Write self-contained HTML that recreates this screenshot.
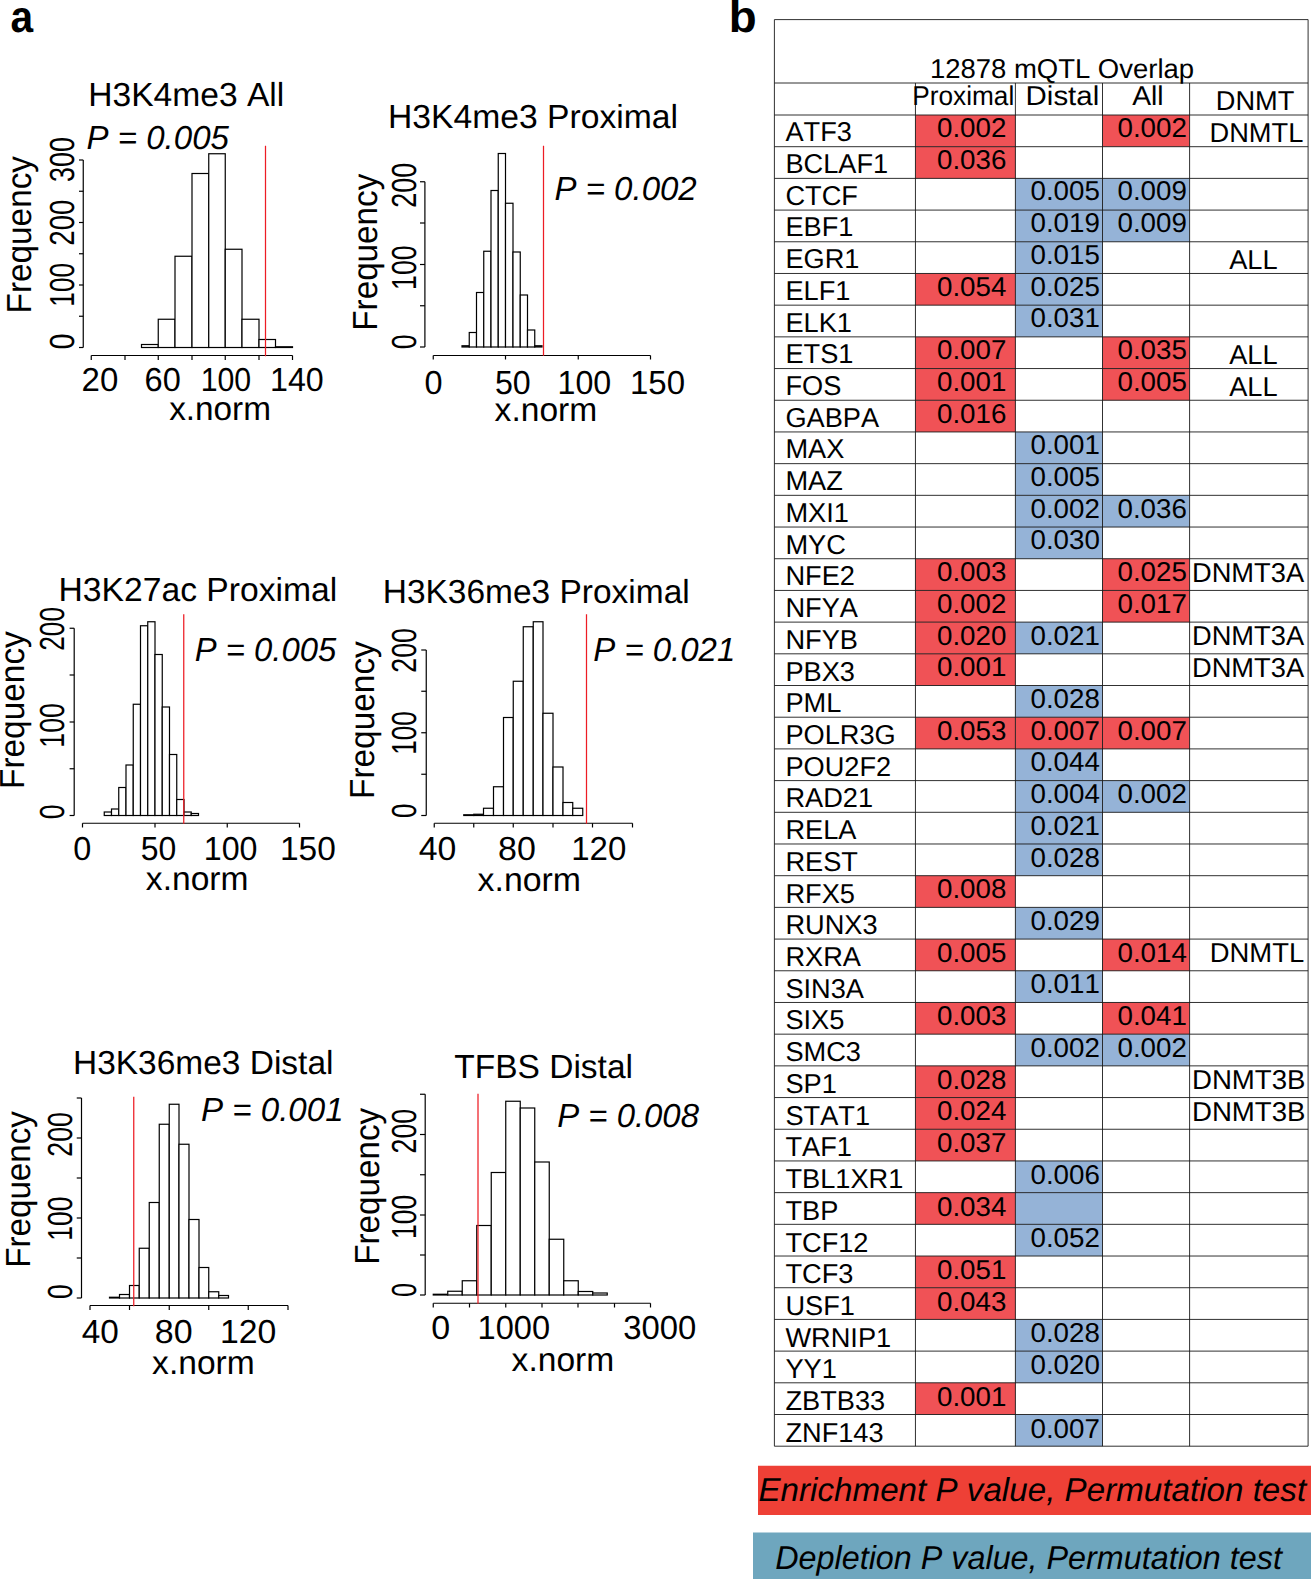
<!DOCTYPE html>
<html><head><meta charset="utf-8"><title>Figure</title>
<style>html,body{margin:0;padding:0;background:#fff}svg{display:block}</style></head>
<body>
<svg width="1311" height="1580" viewBox="0 0 1311 1580" font-family='"Liberation Sans", sans-serif' style="font-kerning:none" text-rendering="geometricPrecision">
<rect width="1311" height="1580" fill="#fff"/>
<rect x="141.50" y="344.50" width="16.75" height="3.00" fill="#fff" stroke="#000" stroke-width="1.20"/>
<rect x="158.25" y="319.25" width="16.75" height="28.25" fill="#fff" stroke="#000" stroke-width="1.20"/>
<rect x="175.00" y="256.25" width="17.00" height="91.25" fill="#fff" stroke="#000" stroke-width="1.20"/>
<rect x="192.00" y="173.50" width="16.75" height="174.00" fill="#fff" stroke="#000" stroke-width="1.20"/>
<rect x="208.75" y="153.75" width="16.50" height="193.75" fill="#fff" stroke="#000" stroke-width="1.20"/>
<rect x="225.25" y="249.25" width="16.75" height="98.25" fill="#fff" stroke="#000" stroke-width="1.20"/>
<rect x="242.00" y="319.25" width="17.00" height="28.25" fill="#fff" stroke="#000" stroke-width="1.20"/>
<rect x="259.00" y="339.50" width="16.50" height="8.00" fill="#fff" stroke="#000" stroke-width="1.20"/>
<rect x="275.50" y="346.75" width="17.00" height="0.75" fill="#fff" stroke="#000" stroke-width="1.20"/>
<line x1="83.25" y1="347.50" x2="83.25" y2="160.00" stroke="#000" stroke-width="1.20"/>
<line x1="79.00" y1="347.50" x2="83.25" y2="347.50" stroke="#000" stroke-width="1.20"/>
<line x1="79.00" y1="316.25" x2="83.25" y2="316.25" stroke="#000" stroke-width="1.20"/>
<line x1="79.00" y1="285.00" x2="83.25" y2="285.00" stroke="#000" stroke-width="1.20"/>
<line x1="79.00" y1="253.75" x2="83.25" y2="253.75" stroke="#000" stroke-width="1.20"/>
<line x1="79.00" y1="222.50" x2="83.25" y2="222.50" stroke="#000" stroke-width="1.20"/>
<line x1="79.00" y1="191.25" x2="83.25" y2="191.25" stroke="#000" stroke-width="1.20"/>
<line x1="79.00" y1="160.00" x2="83.25" y2="160.00" stroke="#000" stroke-width="1.20"/>
<line x1="91.25" y1="355.50" x2="292.50" y2="355.50" stroke="#000" stroke-width="1.20"/>
<line x1="91.25" y1="355.50" x2="91.25" y2="360.00" stroke="#000" stroke-width="1.20"/>
<line x1="125.00" y1="355.50" x2="125.00" y2="360.00" stroke="#000" stroke-width="1.20"/>
<line x1="158.25" y1="355.50" x2="158.25" y2="360.00" stroke="#000" stroke-width="1.20"/>
<line x1="192.00" y1="355.50" x2="192.00" y2="360.00" stroke="#000" stroke-width="1.20"/>
<line x1="225.25" y1="355.50" x2="225.25" y2="360.00" stroke="#000" stroke-width="1.20"/>
<line x1="259.00" y1="355.50" x2="259.00" y2="360.00" stroke="#000" stroke-width="1.20"/>
<line x1="292.50" y1="355.50" x2="292.50" y2="360.00" stroke="#000" stroke-width="1.20"/>
<line x1="265.50" y1="145.75" x2="265.50" y2="356.25" stroke="#ed1c24" stroke-width="1.25"/>
<rect x="462.00" y="345.75" width="7.25" height="1.25" fill="#fff" stroke="#000" stroke-width="1.20"/>
<rect x="469.25" y="332.50" width="7.25" height="14.50" fill="#fff" stroke="#000" stroke-width="1.20"/>
<rect x="476.50" y="292.50" width="7.25" height="54.50" fill="#fff" stroke="#000" stroke-width="1.20"/>
<rect x="483.75" y="251.25" width="7.25" height="95.75" fill="#fff" stroke="#000" stroke-width="1.20"/>
<rect x="491.00" y="190.50" width="7.25" height="156.50" fill="#fff" stroke="#000" stroke-width="1.20"/>
<rect x="498.25" y="153.50" width="7.25" height="193.50" fill="#fff" stroke="#000" stroke-width="1.20"/>
<rect x="505.50" y="203.25" width="7.50" height="143.75" fill="#fff" stroke="#000" stroke-width="1.20"/>
<rect x="513.00" y="252.00" width="7.25" height="95.00" fill="#fff" stroke="#000" stroke-width="1.20"/>
<rect x="520.25" y="295.00" width="7.25" height="52.00" fill="#fff" stroke="#000" stroke-width="1.20"/>
<rect x="527.50" y="330.00" width="7.25" height="17.00" fill="#fff" stroke="#000" stroke-width="1.20"/>
<rect x="534.75" y="345.75" width="7.25" height="1.25" fill="#fff" stroke="#000" stroke-width="1.20"/>
<line x1="424.90" y1="347.00" x2="424.90" y2="181.75" stroke="#000" stroke-width="1.20"/>
<line x1="420.00" y1="347.00" x2="424.90" y2="347.00" stroke="#000" stroke-width="1.20"/>
<line x1="420.00" y1="305.75" x2="424.90" y2="305.75" stroke="#000" stroke-width="1.20"/>
<line x1="420.00" y1="264.50" x2="424.90" y2="264.50" stroke="#000" stroke-width="1.20"/>
<line x1="420.00" y1="223.00" x2="424.90" y2="223.00" stroke="#000" stroke-width="1.20"/>
<line x1="420.00" y1="181.75" x2="424.90" y2="181.75" stroke="#000" stroke-width="1.20"/>
<line x1="433.25" y1="355.50" x2="650.50" y2="355.50" stroke="#000" stroke-width="1.20"/>
<line x1="433.25" y1="355.50" x2="433.25" y2="359.50" stroke="#000" stroke-width="1.20"/>
<line x1="505.50" y1="355.50" x2="505.50" y2="359.50" stroke="#000" stroke-width="1.20"/>
<line x1="578.25" y1="355.50" x2="578.25" y2="359.50" stroke="#000" stroke-width="1.20"/>
<line x1="650.50" y1="355.50" x2="650.50" y2="359.50" stroke="#000" stroke-width="1.20"/>
<line x1="543.50" y1="145.75" x2="543.50" y2="355.75" stroke="#ed1c24" stroke-width="1.25"/>
<rect x="104.25" y="812.00" width="7.25" height="3.50" fill="#fff" stroke="#000" stroke-width="1.20"/>
<rect x="111.50" y="809.00" width="7.25" height="6.50" fill="#fff" stroke="#000" stroke-width="1.20"/>
<rect x="118.75" y="787.50" width="7.25" height="28.00" fill="#fff" stroke="#000" stroke-width="1.20"/>
<rect x="126.00" y="765.00" width="7.25" height="50.50" fill="#fff" stroke="#000" stroke-width="1.20"/>
<rect x="133.25" y="704.25" width="7.25" height="111.25" fill="#fff" stroke="#000" stroke-width="1.20"/>
<rect x="140.50" y="625.75" width="7.25" height="189.75" fill="#fff" stroke="#000" stroke-width="1.20"/>
<rect x="147.75" y="621.75" width="7.25" height="193.75" fill="#fff" stroke="#000" stroke-width="1.20"/>
<rect x="155.00" y="654.50" width="7.25" height="161.00" fill="#fff" stroke="#000" stroke-width="1.20"/>
<rect x="162.25" y="707.00" width="7.25" height="108.50" fill="#fff" stroke="#000" stroke-width="1.20"/>
<rect x="169.50" y="754.50" width="7.25" height="61.00" fill="#fff" stroke="#000" stroke-width="1.20"/>
<rect x="176.75" y="799.50" width="7.25" height="16.00" fill="#fff" stroke="#000" stroke-width="1.20"/>
<rect x="184.00" y="812.00" width="7.25" height="3.50" fill="#fff" stroke="#000" stroke-width="1.20"/>
<rect x="191.25" y="813.50" width="7.25" height="2.00" fill="#fff" stroke="#000" stroke-width="1.20"/>
<line x1="74.20" y1="815.50" x2="74.20" y2="628.25" stroke="#000" stroke-width="1.20"/>
<line x1="69.60" y1="815.50" x2="74.20" y2="815.50" stroke="#000" stroke-width="1.20"/>
<line x1="69.60" y1="768.75" x2="74.20" y2="768.75" stroke="#000" stroke-width="1.20"/>
<line x1="69.60" y1="722.00" x2="74.20" y2="722.00" stroke="#000" stroke-width="1.20"/>
<line x1="69.60" y1="675.00" x2="74.20" y2="675.00" stroke="#000" stroke-width="1.20"/>
<line x1="69.60" y1="628.25" x2="74.20" y2="628.25" stroke="#000" stroke-width="1.20"/>
<line x1="82.50" y1="823.25" x2="299.50" y2="823.25" stroke="#000" stroke-width="1.20"/>
<line x1="82.50" y1="823.25" x2="82.50" y2="827.50" stroke="#000" stroke-width="1.20"/>
<line x1="155.00" y1="823.25" x2="155.00" y2="827.50" stroke="#000" stroke-width="1.20"/>
<line x1="227.25" y1="823.25" x2="227.25" y2="827.50" stroke="#000" stroke-width="1.20"/>
<line x1="299.50" y1="823.25" x2="299.50" y2="827.50" stroke="#000" stroke-width="1.20"/>
<line x1="183.75" y1="614.25" x2="183.75" y2="823.75" stroke="#ed1c24" stroke-width="1.25"/>
<rect x="463.75" y="814.75" width="10.00" height="0.75" fill="#fff" stroke="#000" stroke-width="1.20"/>
<rect x="473.75" y="814.25" width="9.75" height="1.25" fill="#fff" stroke="#000" stroke-width="1.20"/>
<rect x="483.50" y="808.25" width="10.00" height="7.25" fill="#fff" stroke="#000" stroke-width="1.20"/>
<rect x="493.50" y="786.75" width="10.00" height="28.75" fill="#fff" stroke="#000" stroke-width="1.20"/>
<rect x="503.50" y="717.50" width="9.75" height="98.00" fill="#fff" stroke="#000" stroke-width="1.20"/>
<rect x="513.25" y="681.25" width="10.00" height="134.25" fill="#fff" stroke="#000" stroke-width="1.20"/>
<rect x="523.25" y="626.75" width="10.00" height="188.75" fill="#fff" stroke="#000" stroke-width="1.20"/>
<rect x="533.25" y="621.75" width="9.75" height="193.75" fill="#fff" stroke="#000" stroke-width="1.20"/>
<rect x="543.00" y="713.25" width="10.00" height="102.25" fill="#fff" stroke="#000" stroke-width="1.20"/>
<rect x="553.00" y="767.00" width="10.00" height="48.50" fill="#fff" stroke="#000" stroke-width="1.20"/>
<rect x="563.00" y="802.50" width="9.75" height="13.00" fill="#fff" stroke="#000" stroke-width="1.20"/>
<rect x="572.75" y="808.25" width="10.00" height="7.25" fill="#fff" stroke="#000" stroke-width="1.20"/>
<line x1="426.25" y1="815.50" x2="426.25" y2="650.00" stroke="#000" stroke-width="1.20"/>
<line x1="421.25" y1="815.50" x2="426.25" y2="815.50" stroke="#000" stroke-width="1.20"/>
<line x1="421.25" y1="774.25" x2="426.25" y2="774.25" stroke="#000" stroke-width="1.20"/>
<line x1="421.25" y1="732.75" x2="426.25" y2="732.75" stroke="#000" stroke-width="1.20"/>
<line x1="421.25" y1="691.25" x2="426.25" y2="691.25" stroke="#000" stroke-width="1.20"/>
<line x1="421.25" y1="650.00" x2="426.25" y2="650.00" stroke="#000" stroke-width="1.20"/>
<line x1="434.25" y1="823.25" x2="632.50" y2="823.25" stroke="#000" stroke-width="1.20"/>
<line x1="434.25" y1="823.25" x2="434.25" y2="827.50" stroke="#000" stroke-width="1.20"/>
<line x1="473.75" y1="823.25" x2="473.75" y2="827.50" stroke="#000" stroke-width="1.20"/>
<line x1="513.25" y1="823.25" x2="513.25" y2="827.50" stroke="#000" stroke-width="1.20"/>
<line x1="553.00" y1="823.25" x2="553.00" y2="827.50" stroke="#000" stroke-width="1.20"/>
<line x1="592.50" y1="823.25" x2="592.50" y2="827.50" stroke="#000" stroke-width="1.20"/>
<line x1="632.50" y1="823.25" x2="632.50" y2="827.50" stroke="#000" stroke-width="1.20"/>
<line x1="586.50" y1="614.25" x2="586.50" y2="823.75" stroke="#ed1c24" stroke-width="1.25"/>
<rect x="109.50" y="1297.25" width="10.00" height="0.75" fill="#fff" stroke="#000" stroke-width="1.20"/>
<rect x="119.50" y="1294.50" width="10.00" height="3.50" fill="#fff" stroke="#000" stroke-width="1.20"/>
<rect x="129.50" y="1285.50" width="9.75" height="12.50" fill="#fff" stroke="#000" stroke-width="1.20"/>
<rect x="139.25" y="1248.25" width="10.00" height="49.75" fill="#fff" stroke="#000" stroke-width="1.20"/>
<rect x="149.25" y="1202.50" width="10.00" height="95.50" fill="#fff" stroke="#000" stroke-width="1.20"/>
<rect x="159.25" y="1124.25" width="10.00" height="173.75" fill="#fff" stroke="#000" stroke-width="1.20"/>
<rect x="169.25" y="1104.25" width="9.75" height="193.75" fill="#fff" stroke="#000" stroke-width="1.20"/>
<rect x="179.00" y="1144.25" width="10.00" height="153.75" fill="#fff" stroke="#000" stroke-width="1.20"/>
<rect x="189.00" y="1219.50" width="10.00" height="78.50" fill="#fff" stroke="#000" stroke-width="1.20"/>
<rect x="199.00" y="1267.50" width="9.75" height="30.50" fill="#fff" stroke="#000" stroke-width="1.20"/>
<rect x="208.75" y="1291.75" width="10.00" height="6.25" fill="#fff" stroke="#000" stroke-width="1.20"/>
<rect x="218.75" y="1295.50" width="9.75" height="2.50" fill="#fff" stroke="#000" stroke-width="1.20"/>
<line x1="81.50" y1="1298.00" x2="81.50" y2="1098.00" stroke="#000" stroke-width="1.20"/>
<line x1="76.75" y1="1298.00" x2="81.50" y2="1298.00" stroke="#000" stroke-width="1.20"/>
<line x1="76.75" y1="1258.00" x2="81.50" y2="1258.00" stroke="#000" stroke-width="1.20"/>
<line x1="76.75" y1="1218.00" x2="81.50" y2="1218.00" stroke="#000" stroke-width="1.20"/>
<line x1="76.75" y1="1178.00" x2="81.50" y2="1178.00" stroke="#000" stroke-width="1.20"/>
<line x1="76.75" y1="1138.00" x2="81.50" y2="1138.00" stroke="#000" stroke-width="1.20"/>
<line x1="76.75" y1="1098.00" x2="81.50" y2="1098.00" stroke="#000" stroke-width="1.20"/>
<line x1="90.00" y1="1305.50" x2="288.00" y2="1305.50" stroke="#000" stroke-width="1.20"/>
<line x1="90.00" y1="1305.50" x2="90.00" y2="1310.00" stroke="#000" stroke-width="1.20"/>
<line x1="129.50" y1="1305.50" x2="129.50" y2="1310.00" stroke="#000" stroke-width="1.20"/>
<line x1="169.25" y1="1305.50" x2="169.25" y2="1310.00" stroke="#000" stroke-width="1.20"/>
<line x1="208.75" y1="1305.50" x2="208.75" y2="1310.00" stroke="#000" stroke-width="1.20"/>
<line x1="248.25" y1="1305.50" x2="248.25" y2="1310.00" stroke="#000" stroke-width="1.20"/>
<line x1="288.00" y1="1305.50" x2="288.00" y2="1310.00" stroke="#000" stroke-width="1.20"/>
<line x1="133.75" y1="1096.75" x2="133.75" y2="1306.25" stroke="#ed1c24" stroke-width="1.25"/>
<rect x="433.25" y="1294.25" width="14.50" height="0.75" fill="#fff" stroke="#000" stroke-width="1.20"/>
<rect x="447.75" y="1291.25" width="14.50" height="3.75" fill="#fff" stroke="#000" stroke-width="1.20"/>
<rect x="462.25" y="1280.75" width="14.50" height="14.25" fill="#fff" stroke="#000" stroke-width="1.20"/>
<rect x="476.75" y="1225.50" width="14.50" height="69.50" fill="#fff" stroke="#000" stroke-width="1.20"/>
<rect x="491.25" y="1172.50" width="14.50" height="122.50" fill="#fff" stroke="#000" stroke-width="1.20"/>
<rect x="505.75" y="1101.25" width="14.50" height="193.75" fill="#fff" stroke="#000" stroke-width="1.20"/>
<rect x="520.25" y="1108.00" width="14.50" height="187.00" fill="#fff" stroke="#000" stroke-width="1.20"/>
<rect x="534.75" y="1162.00" width="14.50" height="133.00" fill="#fff" stroke="#000" stroke-width="1.20"/>
<rect x="549.25" y="1239.25" width="14.50" height="55.75" fill="#fff" stroke="#000" stroke-width="1.20"/>
<rect x="563.75" y="1280.75" width="14.50" height="14.25" fill="#fff" stroke="#000" stroke-width="1.20"/>
<rect x="578.25" y="1291.50" width="14.50" height="3.50" fill="#fff" stroke="#000" stroke-width="1.20"/>
<rect x="592.75" y="1293.00" width="14.50" height="2.00" fill="#fff" stroke="#000" stroke-width="1.20"/>
<line x1="425.20" y1="1295.00" x2="425.20" y2="1094.25" stroke="#000" stroke-width="1.20"/>
<line x1="420.00" y1="1295.00" x2="425.20" y2="1295.00" stroke="#000" stroke-width="1.20"/>
<line x1="420.00" y1="1255.00" x2="425.20" y2="1255.00" stroke="#000" stroke-width="1.20"/>
<line x1="420.00" y1="1215.00" x2="425.20" y2="1215.00" stroke="#000" stroke-width="1.20"/>
<line x1="420.00" y1="1174.75" x2="425.20" y2="1174.75" stroke="#000" stroke-width="1.20"/>
<line x1="420.00" y1="1134.50" x2="425.20" y2="1134.50" stroke="#000" stroke-width="1.20"/>
<line x1="420.00" y1="1094.25" x2="425.20" y2="1094.25" stroke="#000" stroke-width="1.20"/>
<line x1="433.25" y1="1303.25" x2="650.50" y2="1303.25" stroke="#000" stroke-width="1.20"/>
<line x1="433.25" y1="1303.25" x2="433.25" y2="1307.50" stroke="#000" stroke-width="1.20"/>
<line x1="469.50" y1="1303.25" x2="469.50" y2="1307.50" stroke="#000" stroke-width="1.20"/>
<line x1="505.75" y1="1303.25" x2="505.75" y2="1307.50" stroke="#000" stroke-width="1.20"/>
<line x1="542.00" y1="1303.25" x2="542.00" y2="1307.50" stroke="#000" stroke-width="1.20"/>
<line x1="578.00" y1="1303.25" x2="578.00" y2="1307.50" stroke="#000" stroke-width="1.20"/>
<line x1="614.50" y1="1303.25" x2="614.50" y2="1307.50" stroke="#000" stroke-width="1.20"/>
<line x1="650.50" y1="1303.25" x2="650.50" y2="1307.50" stroke="#000" stroke-width="1.20"/>
<line x1="478.00" y1="1093.75" x2="478.00" y2="1303.75" stroke="#ed1c24" stroke-width="1.25"/>
<text transform="translate(10.51,32.30) scale(0.9125,1.000)" font-size="44.60" font-weight="bold" fill="#000">a</text>
<text transform="translate(728.83,32.30) scale(1.0256,1.000)" font-size="44.60" font-weight="bold" fill="#000">b</text>
<text transform="translate(88.24,105.75) scale(1.0086,1.000)" font-size="33.30" fill="#000">H3K4me3 All</text>
<text transform="translate(86.48,148.75) scale(0.9926,1.000)" font-size="33.30" font-style="italic" fill="#000">P = 0.005</text>
<text transform="translate(30.50,313.49) rotate(-90) scale(1.0014,1.045)" font-size="33.30">Frequency</text>
<text transform="translate(74.20,349.43) rotate(-90) scale(0.8669,1.045)" font-size="33.30">0</text>
<text transform="translate(74.20,306.70) rotate(-90) scale(0.7888,1.045)" font-size="33.30">100</text>
<text transform="translate(74.20,245.69) rotate(-90) scale(0.8310,1.045)" font-size="33.30">200</text>
<text transform="translate(74.20,182.03) rotate(-90) scale(0.8115,1.045)" font-size="33.30">300</text>
<text transform="translate(81.59,391.25) scale(0.9908,1.000)" font-size="33.30" fill="#000">20</text>
<text transform="translate(144.60,391.25) scale(0.9766,1.000)" font-size="33.30" fill="#000">60</text>
<text transform="translate(200.70,391.25) scale(0.9087,1.000)" font-size="33.30" fill="#000">100</text>
<text transform="translate(270.05,391.25) scale(0.9667,1.000)" font-size="33.30" fill="#000">140</text>
<text transform="translate(169.13,420.00) scale(1.0005,1.000)" font-size="33.30" fill="#000">x.norm</text>
<text transform="translate(387.99,128.00) scale(1.0110,1.000)" font-size="33.30" fill="#000">H3K4me3 Proximal</text>
<text transform="translate(554.48,199.75) scale(0.9913,1.000)" font-size="33.30" font-style="italic" fill="#000">P = 0.002</text>
<text transform="translate(377.00,330.73) rotate(-90) scale(0.9982,1.045)" font-size="33.30">Frequency</text>
<text transform="translate(415.70,349.35) rotate(-90) scale(0.8041,1.045)" font-size="33.30">0</text>
<text transform="translate(415.70,289.94) rotate(-90) scale(0.8024,1.045)" font-size="33.30">100</text>
<text transform="translate(415.70,207.76) rotate(-90) scale(0.8101,1.045)" font-size="33.30">200</text>
<text transform="translate(424.48,394.25) scale(0.9737,1.000)" font-size="33.30" fill="#000">0</text>
<text transform="translate(494.96,394.25) scale(0.9664,1.000)" font-size="33.30" fill="#000">50</text>
<text transform="translate(557.55,394.25) scale(0.9667,1.000)" font-size="33.30" fill="#000">100</text>
<text transform="translate(629.99,394.25) scale(0.9909,1.000)" font-size="33.30" fill="#000">150</text>
<text transform="translate(494.62,420.50) scale(1.0081,1.000)" font-size="33.30" fill="#000">x.norm</text>
<text transform="translate(58.49,600.50) scale(1.0109,1.000)" font-size="33.30" fill="#000">H3K27ac Proximal</text>
<text transform="translate(194.74,660.75) scale(0.9856,1.000)" font-size="33.30" font-style="italic" fill="#000">P = 0.005</text>
<text transform="translate(24.25,788.99) rotate(-90) scale(1.0030,1.045)" font-size="33.30">Frequency</text>
<text transform="translate(64.30,819.35) rotate(-90) scale(0.8041,1.045)" font-size="33.30">0</text>
<text transform="translate(64.30,747.64) rotate(-90) scale(0.8024,1.045)" font-size="33.30">100</text>
<text transform="translate(64.30,650.82) rotate(-90) scale(0.7892,1.045)" font-size="33.30">200</text>
<text transform="translate(73.23,860.00) scale(0.9737,1.000)" font-size="33.30" fill="#000">0</text>
<text transform="translate(140.72,860.00) scale(0.9591,1.000)" font-size="33.30" fill="#000">50</text>
<text transform="translate(203.80,860.00) scale(0.9667,1.000)" font-size="33.30" fill="#000">100</text>
<text transform="translate(279.95,860.00) scale(1.0054,1.000)" font-size="33.30" fill="#000">150</text>
<text transform="translate(145.87,890.00) scale(1.0081,1.000)" font-size="33.30" fill="#000">x.norm</text>
<text transform="translate(382.75,603.00) scale(1.0053,1.000)" font-size="33.30" fill="#000">H3K36me3 Proximal</text>
<text transform="translate(593.24,661.25) scale(0.9899,1.000)" font-size="33.30" font-style="italic" fill="#000">P = 0.021</text>
<text transform="translate(373.75,798.99) rotate(-90) scale(1.0030,1.045)" font-size="33.30">Frequency</text>
<text transform="translate(416.40,817.91) rotate(-90) scale(0.7790,1.045)" font-size="33.30">0</text>
<text transform="translate(416.40,754.80) rotate(-90) scale(0.7869,1.045)" font-size="33.30">100</text>
<text transform="translate(416.40,672.64) rotate(-90) scale(0.8025,1.045)" font-size="33.30">200</text>
<text transform="translate(418.72,859.50) scale(1.0150,1.000)" font-size="33.30" fill="#000">40</text>
<text transform="translate(498.02,859.50) scale(1.0207,1.000)" font-size="33.30" fill="#000">80</text>
<text transform="translate(571.24,859.50) scale(0.9909,1.000)" font-size="33.30" fill="#000">120</text>
<text transform="translate(477.62,890.50) scale(1.0156,1.000)" font-size="33.30" fill="#000">x.norm</text>
<text transform="translate(73.00,1074.25) scale(1.0053,1.000)" font-size="33.30" fill="#000">H3K36me3 Distal</text>
<text transform="translate(200.98,1121.25) scale(0.9935,1.000)" font-size="33.30" font-style="italic" fill="#000">P = 0.001</text>
<text transform="translate(30.00,1267.72) rotate(-90) scale(0.9949,1.045)" font-size="33.30">Frequency</text>
<text transform="translate(72.30,1298.94) rotate(-90) scale(0.7978,1.045)" font-size="33.30">0</text>
<text transform="translate(72.30,1240.72) rotate(-90) scale(0.7946,1.045)" font-size="33.30">100</text>
<text transform="translate(72.30,1156.64) rotate(-90) scale(0.8006,1.045)" font-size="33.30">200</text>
<text transform="translate(81.74,1343.00) scale(1.0007,1.000)" font-size="33.30" fill="#000">40</text>
<text transform="translate(154.77,1343.00) scale(1.0207,1.000)" font-size="33.30" fill="#000">80</text>
<text transform="translate(219.93,1343.00) scale(1.0150,1.000)" font-size="33.30" fill="#000">120</text>
<text transform="translate(152.12,1373.75) scale(1.0081,1.000)" font-size="33.30" fill="#000">x.norm</text>
<text transform="translate(454.25,1078.25) scale(1.0063,1.000)" font-size="33.30" fill="#000">TFBS Distal</text>
<text transform="translate(557.24,1126.75) scale(0.9875,1.000)" font-size="33.30" font-style="italic" fill="#000">P = 0.008</text>
<text transform="translate(378.75,1264.72) rotate(-90) scale(0.9966,1.045)" font-size="33.30">Frequency</text>
<text transform="translate(415.70,1296.89) rotate(-90) scale(0.7601,1.045)" font-size="33.30">0</text>
<text transform="translate(415.70,1238.92) rotate(-90) scale(0.7966,1.045)" font-size="33.30">100</text>
<text transform="translate(415.70,1153.45) rotate(-90) scale(0.8044,1.045)" font-size="33.30">200</text>
<text transform="translate(431.17,1338.75) scale(1.0208,1.000)" font-size="33.30" fill="#000">0</text>
<text transform="translate(477.52,1338.75) scale(0.9788,1.000)" font-size="33.30" fill="#000">1000</text>
<text transform="translate(623.25,1338.75) scale(0.9859,1.000)" font-size="33.30" fill="#000">3000</text>
<text transform="translate(511.62,1370.50) scale(1.0081,1.000)" font-size="33.30" fill="#000">x.norm</text>
<rect x="915.45" y="115.00" width="99.95" height="31.70" fill="#f05256"/>
<rect x="1102.50" y="115.00" width="87.10" height="31.70" fill="#f05256"/>
<rect x="915.45" y="146.70" width="99.95" height="31.70" fill="#f05256"/>
<rect x="1015.40" y="178.39" width="87.10" height="31.70" fill="#95b3d7"/>
<rect x="1102.50" y="178.39" width="87.10" height="31.70" fill="#95b3d7"/>
<rect x="1015.40" y="210.09" width="87.10" height="31.70" fill="#95b3d7"/>
<rect x="1102.50" y="210.09" width="87.10" height="31.70" fill="#95b3d7"/>
<rect x="1015.40" y="241.78" width="87.10" height="31.70" fill="#95b3d7"/>
<rect x="915.45" y="273.48" width="99.95" height="31.70" fill="#f05256"/>
<rect x="1015.40" y="273.48" width="87.10" height="31.70" fill="#95b3d7"/>
<rect x="1015.40" y="305.17" width="87.10" height="31.70" fill="#95b3d7"/>
<rect x="915.45" y="336.87" width="99.95" height="31.70" fill="#f05256"/>
<rect x="1102.50" y="336.87" width="87.10" height="31.70" fill="#f05256"/>
<rect x="915.45" y="368.56" width="99.95" height="31.70" fill="#f05256"/>
<rect x="1102.50" y="368.56" width="87.10" height="31.70" fill="#f05256"/>
<rect x="915.45" y="400.26" width="99.95" height="31.70" fill="#f05256"/>
<rect x="1015.40" y="431.95" width="87.10" height="31.70" fill="#95b3d7"/>
<rect x="1015.40" y="463.65" width="87.10" height="31.70" fill="#95b3d7"/>
<rect x="1015.40" y="495.34" width="87.10" height="31.70" fill="#95b3d7"/>
<rect x="1102.50" y="495.34" width="87.10" height="31.70" fill="#95b3d7"/>
<rect x="1015.40" y="527.04" width="87.10" height="31.70" fill="#95b3d7"/>
<rect x="915.45" y="558.73" width="99.95" height="31.70" fill="#f05256"/>
<rect x="1102.50" y="558.73" width="87.10" height="31.70" fill="#f05256"/>
<rect x="915.45" y="590.43" width="99.95" height="31.70" fill="#f05256"/>
<rect x="1102.50" y="590.43" width="87.10" height="31.70" fill="#f05256"/>
<rect x="915.45" y="622.12" width="99.95" height="31.70" fill="#f05256"/>
<rect x="1015.40" y="622.12" width="87.10" height="31.70" fill="#95b3d7"/>
<rect x="915.45" y="653.82" width="99.95" height="31.70" fill="#f05256"/>
<rect x="1015.40" y="685.51" width="87.10" height="31.70" fill="#95b3d7"/>
<rect x="915.45" y="717.21" width="99.95" height="31.70" fill="#f05256"/>
<rect x="1015.40" y="717.21" width="87.10" height="31.70" fill="#f05256"/>
<rect x="1102.50" y="717.21" width="87.10" height="31.70" fill="#f05256"/>
<rect x="1015.40" y="748.90" width="87.10" height="31.70" fill="#95b3d7"/>
<rect x="1015.40" y="780.60" width="87.10" height="31.70" fill="#95b3d7"/>
<rect x="1102.50" y="780.60" width="87.10" height="31.70" fill="#95b3d7"/>
<rect x="1015.40" y="812.30" width="87.10" height="31.70" fill="#95b3d7"/>
<rect x="1015.40" y="843.99" width="87.10" height="31.70" fill="#95b3d7"/>
<rect x="915.45" y="875.69" width="99.95" height="31.70" fill="#f05256"/>
<rect x="1015.40" y="907.38" width="87.10" height="31.70" fill="#95b3d7"/>
<rect x="915.45" y="939.08" width="99.95" height="31.70" fill="#f05256"/>
<rect x="1102.50" y="939.08" width="87.10" height="31.70" fill="#f05256"/>
<rect x="1015.40" y="970.77" width="87.10" height="31.70" fill="#95b3d7"/>
<rect x="915.45" y="1002.47" width="99.95" height="31.70" fill="#f05256"/>
<rect x="1102.50" y="1002.47" width="87.10" height="31.70" fill="#f05256"/>
<rect x="1015.40" y="1034.16" width="87.10" height="31.70" fill="#95b3d7"/>
<rect x="1102.50" y="1034.16" width="87.10" height="31.70" fill="#95b3d7"/>
<rect x="915.45" y="1065.86" width="99.95" height="31.70" fill="#f05256"/>
<rect x="915.45" y="1097.55" width="99.95" height="31.70" fill="#f05256"/>
<rect x="915.45" y="1129.25" width="99.95" height="31.70" fill="#f05256"/>
<rect x="1015.40" y="1160.94" width="87.10" height="31.70" fill="#95b3d7"/>
<rect x="915.45" y="1192.64" width="99.95" height="31.70" fill="#f05256"/>
<rect x="1015.40" y="1192.64" width="87.10" height="31.70" fill="#95b3d7"/>
<rect x="1015.40" y="1224.33" width="87.10" height="31.70" fill="#95b3d7"/>
<rect x="915.45" y="1256.03" width="99.95" height="31.70" fill="#f05256"/>
<rect x="915.45" y="1287.72" width="99.95" height="31.70" fill="#f05256"/>
<rect x="1015.40" y="1319.42" width="87.10" height="31.70" fill="#95b3d7"/>
<rect x="1015.40" y="1351.11" width="87.10" height="31.70" fill="#95b3d7"/>
<rect x="915.45" y="1382.81" width="99.95" height="31.70" fill="#f05256"/>
<rect x="1015.40" y="1414.50" width="87.10" height="31.70" fill="#95b3d7"/>
<line x1="774.40" y1="19.60" x2="1308.10" y2="19.60" stroke="#1a1a1a" stroke-width="0.90"/>
<line x1="774.40" y1="83.00" x2="1308.10" y2="83.00" stroke="#1a1a1a" stroke-width="0.90"/>
<line x1="774.40" y1="115.00" x2="1308.10" y2="115.00" stroke="#1a1a1a" stroke-width="0.90"/>
<line x1="774.40" y1="146.70" x2="1308.10" y2="146.70" stroke="#1a1a1a" stroke-width="0.90"/>
<line x1="774.40" y1="178.39" x2="1308.10" y2="178.39" stroke="#1a1a1a" stroke-width="0.90"/>
<line x1="774.40" y1="210.09" x2="1308.10" y2="210.09" stroke="#1a1a1a" stroke-width="0.90"/>
<line x1="774.40" y1="241.78" x2="1308.10" y2="241.78" stroke="#1a1a1a" stroke-width="0.90"/>
<line x1="774.40" y1="273.48" x2="1308.10" y2="273.48" stroke="#1a1a1a" stroke-width="0.90"/>
<line x1="774.40" y1="305.17" x2="1308.10" y2="305.17" stroke="#1a1a1a" stroke-width="0.90"/>
<line x1="774.40" y1="336.87" x2="1308.10" y2="336.87" stroke="#1a1a1a" stroke-width="0.90"/>
<line x1="774.40" y1="368.56" x2="1308.10" y2="368.56" stroke="#1a1a1a" stroke-width="0.90"/>
<line x1="774.40" y1="400.26" x2="1308.10" y2="400.26" stroke="#1a1a1a" stroke-width="0.90"/>
<line x1="774.40" y1="431.95" x2="1308.10" y2="431.95" stroke="#1a1a1a" stroke-width="0.90"/>
<line x1="774.40" y1="463.65" x2="1308.10" y2="463.65" stroke="#1a1a1a" stroke-width="0.90"/>
<line x1="774.40" y1="495.34" x2="1308.10" y2="495.34" stroke="#1a1a1a" stroke-width="0.90"/>
<line x1="774.40" y1="527.04" x2="1308.10" y2="527.04" stroke="#1a1a1a" stroke-width="0.90"/>
<line x1="774.40" y1="558.73" x2="1308.10" y2="558.73" stroke="#1a1a1a" stroke-width="0.90"/>
<line x1="774.40" y1="590.43" x2="1308.10" y2="590.43" stroke="#1a1a1a" stroke-width="0.90"/>
<line x1="774.40" y1="622.12" x2="1308.10" y2="622.12" stroke="#1a1a1a" stroke-width="0.90"/>
<line x1="774.40" y1="653.82" x2="1308.10" y2="653.82" stroke="#1a1a1a" stroke-width="0.90"/>
<line x1="774.40" y1="685.51" x2="1308.10" y2="685.51" stroke="#1a1a1a" stroke-width="0.90"/>
<line x1="774.40" y1="717.21" x2="1308.10" y2="717.21" stroke="#1a1a1a" stroke-width="0.90"/>
<line x1="774.40" y1="748.90" x2="1308.10" y2="748.90" stroke="#1a1a1a" stroke-width="0.90"/>
<line x1="774.40" y1="780.60" x2="1308.10" y2="780.60" stroke="#1a1a1a" stroke-width="0.90"/>
<line x1="774.40" y1="812.30" x2="1308.10" y2="812.30" stroke="#1a1a1a" stroke-width="0.90"/>
<line x1="774.40" y1="843.99" x2="1308.10" y2="843.99" stroke="#1a1a1a" stroke-width="0.90"/>
<line x1="774.40" y1="875.69" x2="1308.10" y2="875.69" stroke="#1a1a1a" stroke-width="0.90"/>
<line x1="774.40" y1="907.38" x2="1308.10" y2="907.38" stroke="#1a1a1a" stroke-width="0.90"/>
<line x1="774.40" y1="939.08" x2="1308.10" y2="939.08" stroke="#1a1a1a" stroke-width="0.90"/>
<line x1="774.40" y1="970.77" x2="1308.10" y2="970.77" stroke="#1a1a1a" stroke-width="0.90"/>
<line x1="774.40" y1="1002.47" x2="1308.10" y2="1002.47" stroke="#1a1a1a" stroke-width="0.90"/>
<line x1="774.40" y1="1034.16" x2="1308.10" y2="1034.16" stroke="#1a1a1a" stroke-width="0.90"/>
<line x1="774.40" y1="1065.86" x2="1308.10" y2="1065.86" stroke="#1a1a1a" stroke-width="0.90"/>
<line x1="774.40" y1="1097.55" x2="1308.10" y2="1097.55" stroke="#1a1a1a" stroke-width="0.90"/>
<line x1="774.40" y1="1129.25" x2="1308.10" y2="1129.25" stroke="#1a1a1a" stroke-width="0.90"/>
<line x1="774.40" y1="1160.94" x2="1308.10" y2="1160.94" stroke="#1a1a1a" stroke-width="0.90"/>
<line x1="774.40" y1="1192.64" x2="1308.10" y2="1192.64" stroke="#1a1a1a" stroke-width="0.90"/>
<line x1="774.40" y1="1224.33" x2="1308.10" y2="1224.33" stroke="#1a1a1a" stroke-width="0.90"/>
<line x1="774.40" y1="1256.03" x2="1308.10" y2="1256.03" stroke="#1a1a1a" stroke-width="0.90"/>
<line x1="774.40" y1="1287.72" x2="1308.10" y2="1287.72" stroke="#1a1a1a" stroke-width="0.90"/>
<line x1="774.40" y1="1319.42" x2="1308.10" y2="1319.42" stroke="#1a1a1a" stroke-width="0.90"/>
<line x1="774.40" y1="1351.11" x2="1308.10" y2="1351.11" stroke="#1a1a1a" stroke-width="0.90"/>
<line x1="774.40" y1="1382.81" x2="1308.10" y2="1382.81" stroke="#1a1a1a" stroke-width="0.90"/>
<line x1="774.40" y1="1414.50" x2="1308.10" y2="1414.50" stroke="#1a1a1a" stroke-width="0.90"/>
<line x1="774.40" y1="1446.20" x2="1308.10" y2="1446.20" stroke="#1a1a1a" stroke-width="0.90"/>
<line x1="774.40" y1="19.60" x2="774.40" y2="1446.20" stroke="#1a1a1a" stroke-width="0.90"/>
<line x1="1308.10" y1="19.60" x2="1308.10" y2="1446.20" stroke="#1a1a1a" stroke-width="0.90"/>
<line x1="915.45" y1="83.00" x2="915.45" y2="1446.20" stroke="#1a1a1a" stroke-width="0.90"/>
<line x1="1015.40" y1="83.00" x2="1015.40" y2="1446.20" stroke="#1a1a1a" stroke-width="0.90"/>
<line x1="1102.50" y1="83.00" x2="1102.50" y2="1446.20" stroke="#1a1a1a" stroke-width="0.90"/>
<line x1="1189.60" y1="83.00" x2="1189.60" y2="1446.20" stroke="#1a1a1a" stroke-width="0.90"/>
<text transform="translate(929.91,77.50) scale(1.0103,1.000)" font-size="27.20" fill="#000">12878 mQTL Overlap</text>
<text transform="translate(912.35,105.00) scale(0.9632,1.000)" font-size="27.20" fill="#000">Proximal</text>
<text transform="translate(1025.58,105.00) scale(1.0827,1.000)" font-size="27.20" fill="#000">Distal</text>
<text transform="translate(1132.19,105.00) scale(1.0404,1.000)" font-size="27.20" fill="#000">All</text>
<text transform="translate(1215.77,110.00) scale(1.0006,1.000)" font-size="27.20" fill="#000">DNMT</text>
<text transform="translate(785.40,141.25) scale(1.0000,1.000)" font-size="27.20" fill="#000">ATF3</text>
<text transform="translate(936.97,137.00) scale(1.0200,1.000)" font-size="27.20" fill="#000">0.002</text>
<text transform="translate(1117.47,137.00) scale(1.0200,1.000)" font-size="27.20" fill="#000">0.002</text>
<text transform="translate(1209.51,142.00) scale(1.0022,1.000)" font-size="27.20" fill="#000">DNMTL</text>
<text transform="translate(785.40,172.97) scale(1.0000,1.000)" font-size="27.20" fill="#000">BCLAF1</text>
<text transform="translate(936.97,168.72) scale(1.0200,1.000)" font-size="27.20" fill="#000">0.036</text>
<text transform="translate(785.40,204.69) scale(1.0000,1.000)" font-size="27.20" fill="#000">CTCF</text>
<text transform="translate(1030.47,200.44) scale(1.0200,1.000)" font-size="27.20" fill="#000">0.005</text>
<text transform="translate(1117.47,200.44) scale(1.0200,1.000)" font-size="27.20" fill="#000">0.009</text>
<text transform="translate(785.40,236.42) scale(1.0000,1.000)" font-size="27.20" fill="#000">EBF1</text>
<text transform="translate(1030.47,232.17) scale(1.0200,1.000)" font-size="27.20" fill="#000">0.019</text>
<text transform="translate(1117.47,232.17) scale(1.0200,1.000)" font-size="27.20" fill="#000">0.009</text>
<text transform="translate(785.40,268.14) scale(1.0000,1.000)" font-size="27.20" fill="#000">EGR1</text>
<text transform="translate(1030.47,263.89) scale(1.0200,1.000)" font-size="27.20" fill="#000">0.015</text>
<text transform="translate(1229.20,268.89) scale(1.0013,1.000)" font-size="27.20" fill="#000">ALL</text>
<text transform="translate(785.40,299.86) scale(1.0000,1.000)" font-size="27.20" fill="#000">ELF1</text>
<text transform="translate(936.97,295.61) scale(1.0200,1.000)" font-size="27.20" fill="#000">0.054</text>
<text transform="translate(1030.47,295.61) scale(1.0200,1.000)" font-size="27.20" fill="#000">0.025</text>
<text transform="translate(785.40,331.58) scale(1.0000,1.000)" font-size="27.20" fill="#000">ELK1</text>
<text transform="translate(1030.47,327.33) scale(1.0200,1.000)" font-size="27.20" fill="#000">0.031</text>
<text transform="translate(785.40,363.30) scale(1.0000,1.000)" font-size="27.20" fill="#000">ETS1</text>
<text transform="translate(936.97,359.05) scale(1.0200,1.000)" font-size="27.20" fill="#000">0.007</text>
<text transform="translate(1117.47,359.05) scale(1.0200,1.000)" font-size="27.20" fill="#000">0.035</text>
<text transform="translate(1229.20,364.05) scale(1.0013,1.000)" font-size="27.20" fill="#000">ALL</text>
<text transform="translate(785.40,395.03) scale(1.0000,1.000)" font-size="27.20" fill="#000">FOS</text>
<text transform="translate(936.97,390.78) scale(1.0200,1.000)" font-size="27.20" fill="#000">0.001</text>
<text transform="translate(1117.47,390.78) scale(1.0200,1.000)" font-size="27.20" fill="#000">0.005</text>
<text transform="translate(1229.20,395.78) scale(1.0013,1.000)" font-size="27.20" fill="#000">ALL</text>
<text transform="translate(785.40,426.75) scale(1.0000,1.000)" font-size="27.20" fill="#000">GABPA</text>
<text transform="translate(936.97,422.50) scale(1.0200,1.000)" font-size="27.20" fill="#000">0.016</text>
<text transform="translate(785.40,458.47) scale(1.0000,1.000)" font-size="27.20" fill="#000">MAX</text>
<text transform="translate(1030.47,454.22) scale(1.0200,1.000)" font-size="27.20" fill="#000">0.001</text>
<text transform="translate(785.40,490.19) scale(1.0000,1.000)" font-size="27.20" fill="#000">MAZ</text>
<text transform="translate(1030.47,485.94) scale(1.0200,1.000)" font-size="27.20" fill="#000">0.005</text>
<text transform="translate(785.40,521.91) scale(1.0000,1.000)" font-size="27.20" fill="#000">MXI1</text>
<text transform="translate(1030.47,517.66) scale(1.0200,1.000)" font-size="27.20" fill="#000">0.002</text>
<text transform="translate(1117.47,517.66) scale(1.0200,1.000)" font-size="27.20" fill="#000">0.036</text>
<text transform="translate(785.40,553.64) scale(1.0000,1.000)" font-size="27.20" fill="#000">MYC</text>
<text transform="translate(1030.47,549.39) scale(1.0200,1.000)" font-size="27.20" fill="#000">0.030</text>
<text transform="translate(785.40,585.36) scale(1.0000,1.000)" font-size="27.20" fill="#000">NFE2</text>
<text transform="translate(936.97,581.11) scale(1.0200,1.000)" font-size="27.20" fill="#000">0.003</text>
<text transform="translate(1117.47,581.11) scale(1.0200,1.000)" font-size="27.20" fill="#000">0.025</text>
<text transform="translate(1191.96,581.51) scale(1.0033,1.000)" font-size="27.20" fill="#000">DNMT3A</text>
<text transform="translate(785.40,617.08) scale(1.0000,1.000)" font-size="27.20" fill="#000">NFYA</text>
<text transform="translate(936.97,612.83) scale(1.0200,1.000)" font-size="27.20" fill="#000">0.002</text>
<text transform="translate(1117.47,612.83) scale(1.0200,1.000)" font-size="27.20" fill="#000">0.017</text>
<text transform="translate(785.40,648.80) scale(1.0000,1.000)" font-size="27.20" fill="#000">NFYB</text>
<text transform="translate(936.97,644.55) scale(1.0200,1.000)" font-size="27.20" fill="#000">0.020</text>
<text transform="translate(1030.47,644.55) scale(1.0200,1.000)" font-size="27.20" fill="#000">0.021</text>
<text transform="translate(1191.96,644.95) scale(1.0033,1.000)" font-size="27.20" fill="#000">DNMT3A</text>
<text transform="translate(785.40,680.52) scale(1.0000,1.000)" font-size="27.20" fill="#000">PBX3</text>
<text transform="translate(936.97,676.27) scale(1.0200,1.000)" font-size="27.20" fill="#000">0.001</text>
<text transform="translate(1191.96,676.67) scale(1.0033,1.000)" font-size="27.20" fill="#000">DNMT3A</text>
<text transform="translate(785.40,712.25) scale(1.0000,1.000)" font-size="27.20" fill="#000">PML</text>
<text transform="translate(1030.47,708.00) scale(1.0200,1.000)" font-size="27.20" fill="#000">0.028</text>
<text transform="translate(785.40,743.97) scale(1.0000,1.000)" font-size="27.20" fill="#000">POLR3G</text>
<text transform="translate(936.97,739.72) scale(1.0200,1.000)" font-size="27.20" fill="#000">0.053</text>
<text transform="translate(1030.47,739.72) scale(1.0200,1.000)" font-size="27.20" fill="#000">0.007</text>
<text transform="translate(1117.47,739.72) scale(1.0200,1.000)" font-size="27.20" fill="#000">0.007</text>
<text transform="translate(785.40,775.69) scale(1.0000,1.000)" font-size="27.20" fill="#000">POU2F2</text>
<text transform="translate(1030.47,771.44) scale(1.0200,1.000)" font-size="27.20" fill="#000">0.044</text>
<text transform="translate(785.40,807.41) scale(1.0000,1.000)" font-size="27.20" fill="#000">RAD21</text>
<text transform="translate(1030.47,803.16) scale(1.0200,1.000)" font-size="27.20" fill="#000">0.004</text>
<text transform="translate(1117.47,803.16) scale(1.0200,1.000)" font-size="27.20" fill="#000">0.002</text>
<text transform="translate(785.40,839.13) scale(1.0000,1.000)" font-size="27.20" fill="#000">RELA</text>
<text transform="translate(1030.47,834.88) scale(1.0200,1.000)" font-size="27.20" fill="#000">0.021</text>
<text transform="translate(785.40,870.86) scale(1.0000,1.000)" font-size="27.20" fill="#000">REST</text>
<text transform="translate(1030.47,866.61) scale(1.0200,1.000)" font-size="27.20" fill="#000">0.028</text>
<text transform="translate(785.40,902.58) scale(1.0000,1.000)" font-size="27.20" fill="#000">RFX5</text>
<text transform="translate(936.97,898.33) scale(1.0200,1.000)" font-size="27.20" fill="#000">0.008</text>
<text transform="translate(785.40,934.30) scale(1.0000,1.000)" font-size="27.20" fill="#000">RUNX3</text>
<text transform="translate(1030.47,930.05) scale(1.0200,1.000)" font-size="27.20" fill="#000">0.029</text>
<text transform="translate(785.40,966.02) scale(1.0000,1.000)" font-size="27.20" fill="#000">RXRA</text>
<text transform="translate(936.97,961.77) scale(1.0200,1.000)" font-size="27.20" fill="#000">0.005</text>
<text transform="translate(1117.47,961.77) scale(1.0200,1.000)" font-size="27.20" fill="#000">0.014</text>
<text transform="translate(1209.75,962.17) scale(1.0083,1.000)" font-size="27.20" fill="#000">DNMTL</text>
<text transform="translate(785.40,997.74) scale(1.0000,1.000)" font-size="27.20" fill="#000">SIN3A</text>
<text transform="translate(1030.47,993.49) scale(1.0200,1.000)" font-size="27.20" fill="#000">0.011</text>
<text transform="translate(785.40,1029.47) scale(1.0000,1.000)" font-size="27.20" fill="#000">SIX5</text>
<text transform="translate(936.97,1025.22) scale(1.0200,1.000)" font-size="27.20" fill="#000">0.003</text>
<text transform="translate(1117.47,1025.22) scale(1.0200,1.000)" font-size="27.20" fill="#000">0.041</text>
<text transform="translate(785.40,1061.19) scale(1.0000,1.000)" font-size="27.20" fill="#000">SMC3</text>
<text transform="translate(1030.47,1056.94) scale(1.0200,1.000)" font-size="27.20" fill="#000">0.002</text>
<text transform="translate(1117.47,1056.94) scale(1.0200,1.000)" font-size="27.20" fill="#000">0.002</text>
<text transform="translate(785.40,1092.91) scale(1.0000,1.000)" font-size="27.20" fill="#000">SP1</text>
<text transform="translate(936.97,1088.66) scale(1.0200,1.000)" font-size="27.20" fill="#000">0.028</text>
<text transform="translate(1191.93,1089.06) scale(1.0161,1.000)" font-size="27.20" fill="#000">DNMT3B</text>
<text transform="translate(785.40,1124.63) scale(1.0000,1.000)" font-size="27.20" fill="#000">STAT1</text>
<text transform="translate(936.97,1120.38) scale(1.0200,1.000)" font-size="27.20" fill="#000">0.024</text>
<text transform="translate(1191.93,1120.78) scale(1.0161,1.000)" font-size="27.20" fill="#000">DNMT3B</text>
<text transform="translate(785.40,1156.35) scale(1.0000,1.000)" font-size="27.20" fill="#000">TAF1</text>
<text transform="translate(936.97,1152.10) scale(1.0200,1.000)" font-size="27.20" fill="#000">0.037</text>
<text transform="translate(785.40,1188.08) scale(1.0000,1.000)" font-size="27.20" fill="#000">TBL1XR1</text>
<text transform="translate(1030.47,1183.83) scale(1.0200,1.000)" font-size="27.20" fill="#000">0.006</text>
<text transform="translate(785.40,1219.80) scale(1.0000,1.000)" font-size="27.20" fill="#000">TBP</text>
<text transform="translate(936.97,1215.55) scale(1.0200,1.000)" font-size="27.20" fill="#000">0.034</text>
<text transform="translate(785.40,1251.52) scale(1.0000,1.000)" font-size="27.20" fill="#000">TCF12</text>
<text transform="translate(1030.47,1247.27) scale(1.0200,1.000)" font-size="27.20" fill="#000">0.052</text>
<text transform="translate(785.40,1283.24) scale(1.0000,1.000)" font-size="27.20" fill="#000">TCF3</text>
<text transform="translate(936.97,1278.99) scale(1.0200,1.000)" font-size="27.20" fill="#000">0.051</text>
<text transform="translate(785.40,1314.96) scale(1.0000,1.000)" font-size="27.20" fill="#000">USF1</text>
<text transform="translate(936.97,1310.71) scale(1.0200,1.000)" font-size="27.20" fill="#000">0.043</text>
<text transform="translate(785.40,1346.69) scale(1.0000,1.000)" font-size="27.20" fill="#000">WRNIP1</text>
<text transform="translate(1030.47,1342.44) scale(1.0200,1.000)" font-size="27.20" fill="#000">0.028</text>
<text transform="translate(785.40,1378.41) scale(1.0000,1.000)" font-size="27.20" fill="#000">YY1</text>
<text transform="translate(1030.47,1374.16) scale(1.0200,1.000)" font-size="27.20" fill="#000">0.020</text>
<text transform="translate(785.40,1410.13) scale(1.0000,1.000)" font-size="27.20" fill="#000">ZBTB33</text>
<text transform="translate(936.97,1405.88) scale(1.0200,1.000)" font-size="27.20" fill="#000">0.001</text>
<text transform="translate(785.40,1441.85) scale(1.0000,1.000)" font-size="27.20" fill="#000">ZNF143</text>
<text transform="translate(1030.47,1437.60) scale(1.0200,1.000)" font-size="27.20" fill="#000">0.007</text>
<rect x="758.00" y="1465.75" width="553.00" height="49.25" fill="#ee4036"/>
<rect x="753.00" y="1532.50" width="558.00" height="46.50" fill="#6ea6be"/>
<text transform="translate(758.48,1500.50) scale(1.0053,1.000)" font-size="33.00" font-style="italic" fill="#000">Enrichment P value, Permutation test</text>
<text transform="translate(775.26,1568.75) scale(0.9794,1.000)" font-size="33.00" font-style="italic" fill="#000">Depletion P value, Permutation test</text>
</svg>
</body></html>
